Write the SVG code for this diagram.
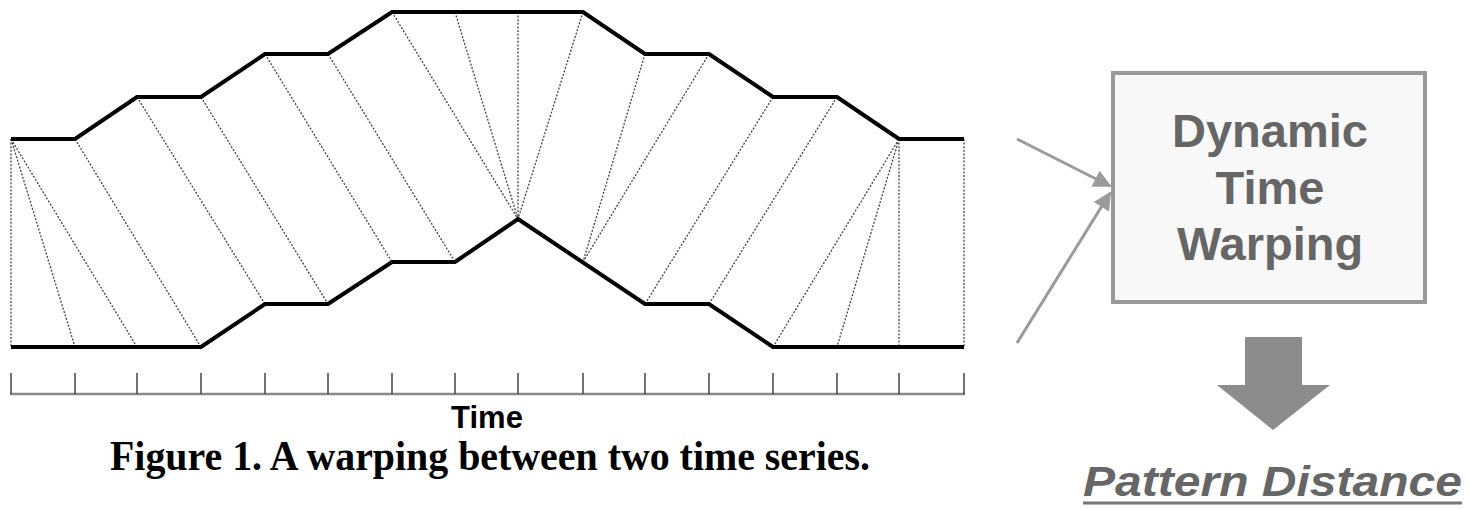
<svg xmlns="http://www.w3.org/2000/svg" width="1470" height="509" viewBox="0 0 1470 509">
<style>
.series{fill:none;stroke:#000;stroke-width:4;stroke-linejoin:miter}
.warp{stroke:#444;stroke-width:1.3;stroke-dasharray:2 1.6;fill:none}
.tick{stroke:#444;stroke-width:1.5}
.axis{stroke:#888;stroke-width:2.5}
.conn{stroke:#9a9a9a;stroke-width:3;fill:none}
.boxlbl{font-family:"Liberation Sans",Arial,sans-serif;font-weight:bold;font-size:47px;fill:#666;text-anchor:middle}
</style>
<defs>
<marker id="ah" viewBox="0 0 10 10" refX="9" refY="5" markerWidth="7" markerHeight="6" markerUnits="strokeWidth" orient="auto">
<path d="M0,0 L10,5 L0,10 z" fill="#9a9a9a"/>
</marker>
</defs>
<rect width="1470" height="509" fill="#fff"/>
<g id="warping-lines">
<line class="warp" x1="11" y1="139" x2="11" y2="347"/>
<line class="warp" x1="11" y1="139" x2="75" y2="347"/>
<line class="warp" x1="11" y1="139" x2="137" y2="347"/>
<line class="warp" x1="75" y1="139" x2="201" y2="347"/>
<line class="warp" x1="137" y1="97" x2="265" y2="304"/>
<line class="warp" x1="201" y1="97" x2="328" y2="304"/>
<line class="warp" x1="265" y1="54" x2="392" y2="262"/>
<line class="warp" x1="328" y1="54" x2="455" y2="262"/>
<line class="warp" x1="392" y1="12" x2="518" y2="219"/>
<line class="warp" x1="455" y1="12" x2="518" y2="219"/>
<line class="warp" x1="518" y1="12" x2="518" y2="219"/>
<line class="warp" x1="583" y1="12" x2="518" y2="219"/>
<line class="warp" x1="645" y1="54" x2="583" y2="262"/>
<line class="warp" x1="709" y1="54" x2="583" y2="262"/>
<line class="warp" x1="773" y1="97" x2="645" y2="304"/>
<line class="warp" x1="837" y1="97" x2="709" y2="304"/>
<line class="warp" x1="899" y1="139" x2="773" y2="347"/>
<line class="warp" x1="899" y1="139" x2="837" y2="347"/>
<line class="warp" x1="899" y1="139" x2="899" y2="347"/>
<line class="warp" x1="964" y1="139" x2="964" y2="347"/>
</g>
<g id="series-top">
<polyline class="series" points="11,139 75,139 137,97 201,97 265,54 328,54 392,12 583,12 645,54 709,54 773,97 837,97 899,139 964,139"/>
</g>
<g id="series-bottom">
<polyline class="series" points="11,347 201,347 265,304 328,304 392,262 455,262 518,219 645,304 709,304 773,347 964,347"/>
</g>
<g id="time-axis">
<line class="axis" x1="10" y1="394" x2="965" y2="394"/>
<g class="tick">
<line x1="11" y1="373" x2="11" y2="394"/>
<line x1="75" y1="373" x2="75" y2="394"/>
<line x1="137" y1="373" x2="137" y2="394"/>
<line x1="201" y1="373" x2="201" y2="394"/>
<line x1="265" y1="373" x2="265" y2="394"/>
<line x1="328" y1="373" x2="328" y2="394"/>
<line x1="392" y1="373" x2="392" y2="394"/>
<line x1="455" y1="373" x2="455" y2="394"/>
<line x1="518" y1="373" x2="518" y2="394"/>
<line x1="583" y1="373" x2="583" y2="394"/>
<line x1="645" y1="373" x2="645" y2="394"/>
<line x1="709" y1="373" x2="709" y2="394"/>
<line x1="773" y1="373" x2="773" y2="394"/>
<line x1="837" y1="373" x2="837" y2="394"/>
<line x1="899" y1="373" x2="899" y2="394"/>
<line x1="964" y1="373" x2="964" y2="394"/>
</g>
<text x="487" y="428" font-family="Liberation Sans,Arial,sans-serif" font-weight="bold" font-size="31" fill="#000" text-anchor="middle">Time</text>
</g>
<g id="caption">
<text x="490" y="470" font-family="Liberation Serif,Times New Roman,serif" font-weight="bold" font-size="42" fill="#000" text-anchor="middle" textLength="760" lengthAdjust="spacingAndGlyphs">Figure 1. A warping between two time series.</text>
</g>
<g id="connectors">
<line class="conn" x1="1017" y1="139" x2="1110" y2="186" marker-end="url(#ah)"/>
<line class="conn" x1="1017" y1="343" x2="1110" y2="193" marker-end="url(#ah)"/>
<polygon points="1245,337 1302,337 1302,385 1330,385 1273,430 1217,385 1245,385" fill="#8c8c8c"/>
</g>
<g id="dtw-node">
<rect x="1113" y="73" width="312" height="229" fill="#f8f8f8" stroke="#999" stroke-width="4"/>
<text class="boxlbl" x="1270" y="147">Dynamic</text>
<text class="boxlbl" x="1270" y="204">Time</text>
<text class="boxlbl" x="1270" y="260">Warping</text>
</g>
<g id="pattern-distance-node">
<text x="1083" y="496" font-family="Liberation Sans,Arial,sans-serif" font-weight="bold" font-style="italic" font-size="43" fill="#666" textLength="379" lengthAdjust="spacingAndGlyphs">Pattern Distance</text>
<line x1="1083" y1="503" x2="1462" y2="503" stroke="#777" stroke-width="3"/>
</g>
</svg>
